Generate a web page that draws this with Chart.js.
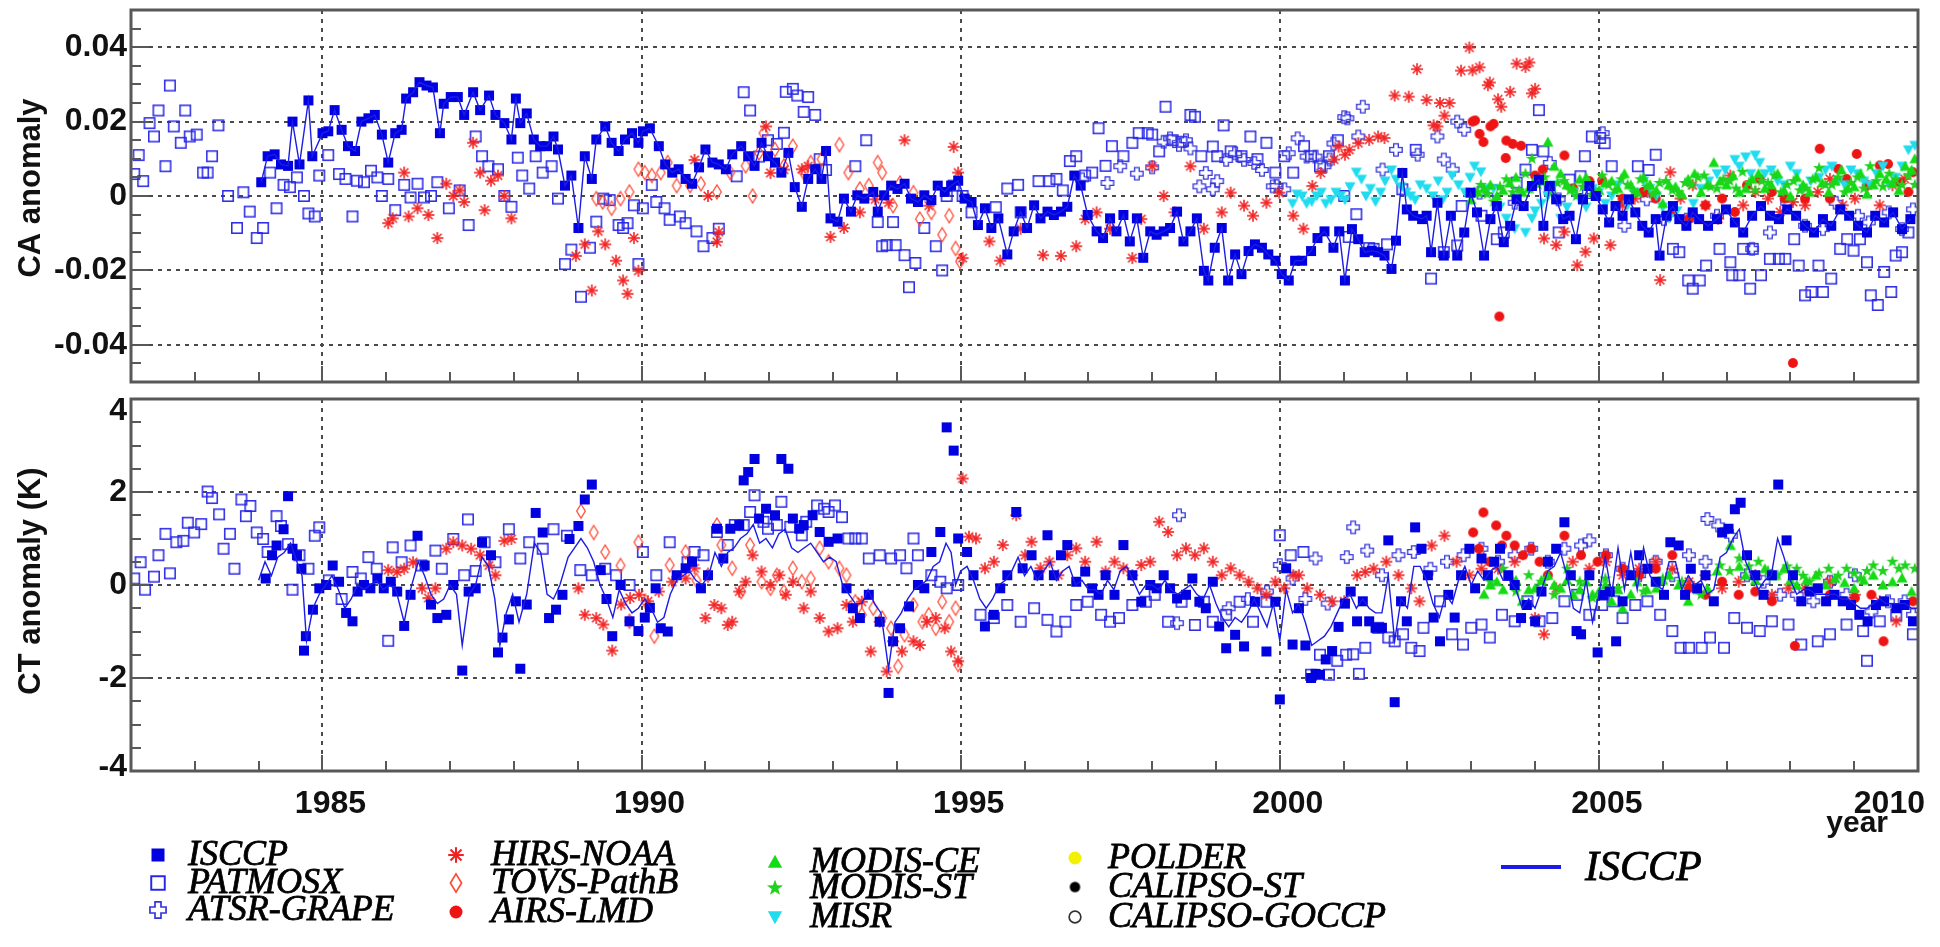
<!DOCTYPE html>
<html>
<head>
<meta charset="utf-8">
<title>CA / CT anomalies</title>
<script src="https://cdn.jsdelivr.net/npm/chart.js@4.4.1/dist/chart.umd.min.js"></script>
<style>
  body { margin: 0; background: #fff; }
  #wrap { position: relative; width: 1940px; height: 947px; overflow: hidden; }
  canvas { position: absolute; left: 0; }
</style>
</head>
<body>
<div id="wrap">
  <canvas id="caChart" width="1940" height="390" style="top:0"></canvas>
  <canvas id="ctChart" width="1940" height="557" style="top:390px"></canvas>
</div>
<script>
// =============================================================================
// Data: [decimal year, anomaly]
// =============================================================================

const yearTicks = [1985, 1990, 1995, 2000, 2005, 2010];
const caTickLabels = ['0.04', '0.02', '0', '-0.02', '-0.04'];
const caTickValues = [0.04, 0.02, 0, -0.02, -0.04];
const ctTickLabels = ['4', '2', '0', '-2', '-4'];
const ctTickValues = [4, 2, 0, -2, -4];

// ---- cloud amount anomaly ----
const isccpCA = [
  [1984.04,.0037],[1984.14,.0107],[1984.25,.0112],[1984.35,.0085],[1984.46,.0081],[1984.53,.0200],[1984.64,.0085],[1984.78,.0257],
  [1984.84,.0107],[1985.0,.0169],[1985.09,.0174],[1985.19,.0231],[1985.3,.0178],[1985.4,.0134],[1985.51,.0121],[1985.61,.0200],
  [1985.72,.0209],[1985.82,.0218],[1985.93,.0165],[1986.03,.0090],[1986.14,.0169],[1986.24,.0178],[1986.31,.0262],[1986.42,.0279],
  [1986.52,.0306],[1986.63,.0297],[1986.73,.0292],[1986.84,.0169],[1986.9,.0248],[1987.01,.0266],[1987.12,.0266],[1987.22,.0218],
  [1987.36,.0279],[1987.47,.0231],[1987.61,.0270],[1987.71,.0218],[1987.85,.0196],[1987.96,.0152],[1988.03,.0262],[1988.1,.0196],
  [1988.2,.0222],[1988.31,.0152],[1988.41,.0134],[1988.52,.0134],[1988.62,.0160],[1988.69,.0125],[1988.8,.0028],[1988.9,.0055],
  [1989.01,-.0086],[1989.11,.0107],[1989.22,.0046],[1989.29,.0152],[1989.43,.0187],[1989.53,.0143],[1989.64,.0121],[1989.74,.0152],
  [1989.85,.0169],[1989.95,.0143],[1990.02,.0174],[1990.13,.0182],[1990.27,.0134],[1990.37,.0085],[1990.48,.0063],[1990.58,.0072],
  [1990.69,.0046],[1990.79,.0033],[1990.9,.0077],[1991.0,.0125],[1991.11,.0090],[1991.21,.0085],[1991.32,.0072],[1991.42,.0112],
  [1991.56,.0134],[1991.67,.0107],[1991.77,.0081],[1991.88,.0143],[1991.98,.0107],[1992.09,.0090],[1992.19,.0063],[1992.3,.0116],
  [1992.4,.0024],[1992.51,-.0029],[1992.61,.0046],[1992.72,.0072],[1992.82,.0046],[1992.89,.0121],[1992.96,-.0060],[1993.07,-.0069],
  [1993.17,-.0007],[1993.28,-.0042],[1993.38,.0002],[1993.49,-.0007],[1993.63,.0011],[1993.7,-.0042],[1993.8,.0002],[1993.91,.0028],
  [1994.01,.0019],[1994.12,.0033],[1994.22,-.0007],[1994.33,-.0016],[1994.43,.0002],[1994.54,-.0011],[1994.64,.0028],[1994.75,.0011],
  [1994.85,.0028],[1994.96,.0041],[1995.06,-.0007],[1995.17,-.0016],[1995.27,-.0078],[1995.38,-.0033],[1995.48,-.0086],[1995.59,-.0060],
  [1995.73,-.0157],[1995.83,-.0095],[1995.94,-.0042],[1996.04,-.0086],[1996.15,-.0025],[1996.25,-.0060],[1996.36,-.0042],[1996.46,-.0051],
  [1996.57,-.0042],[1996.67,-.0029],[1996.78,.0055],[1996.88,.0028],[1996.99,-.0051],[1997.13,-.0095],[1997.23,-.0113],[1997.34,-.0060],
  [1997.44,-.0095],[1997.55,-.0051],[1997.65,-.0122],[1997.76,-.0060],[1997.86,-.0166],[1997.97,-.0095],[1998.07,-.0104],[1998.18,-.0095],
  [1998.28,-.0086],[1998.39,-.0042],[1998.49,-.0122],[1998.6,-.0095],[1998.7,-.0060],[1998.81,-.0201],[1998.88,-.0227],[1998.98,-.0139],
  [1999.09,-.0086],[1999.19,-.0227],[1999.3,-.0157],[1999.4,-.0210],[1999.51,-.0148],[1999.61,-.0130],[1999.72,-.0139],[1999.82,-.0157],
  [1999.93,-.0174],[2000.03,-.0210],[2000.14,-.0227],[2000.24,-.0174],[2000.35,-.0174],[2000.49,-.0148],[2000.59,-.0113],[2000.7,-.0095],
  [2000.84,-.0139],[2000.93,-.0095],[2001.02,-.0227],[2001.13,-.0089],[2001.23,-.0116],[2001.33,-.0151],[2001.44,-.0147],[2001.54,-.0151],
  [2001.64,-.0160],[2001.75,-.0196],[2001.82,-.0120],[2001.92,.0062],[2001.99,-.0036],[2002.09,-.0053],[2002.23,-.0062],[2002.3,-.0053],
  [2002.37,-.0151],[2002.47,-.0018],[2002.57,-.0160],[2002.68,-.0053],[2002.78,-.0160],[2002.89,-.0098],[2002.99,.0009],[2003.09,-.0044],
  [2003.2,-.0160],[2003.3,-.0062],[2003.4,-.0027],[2003.51,-.0124],[2003.61,-.0080],[2003.71,-.0009],[2003.82,-.0027],[2003.95,.0027],
  [2004.06,.0044],[2004.13,-.0080],[2004.23,.0027],[2004.33,-.0009],[2004.44,-.0062],[2004.54,-.0053],[2004.64,-.0116],[2004.75,-.0009],
  [2004.85,.0027],[2004.95,.0],[2005.06,-.0036],[2005.16,-.0071],[2005.26,-.0027],[2005.37,-.0053],[2005.47,-.0009],[2005.57,-.0044],
  [2005.68,-.0080],[2005.78,-.0098],[2005.89,-.0062],[2005.95,-.0160],[2006.06,-.0053],[2006.16,-.0027],[2006.26,-.0062],[2006.37,-.0080],
  [2006.47,-.0044],[2006.57,-.0062],[2006.71,-.0080],[2006.85,-.0062],[2006.99,-.0036],[2007.13,-.0071],[2007.26,-.0098],[2007.4,-.0053],
  [2007.54,-.0027],[2007.68,-.0053],[2007.82,-.0062],[2007.95,-.0036],[2008.09,-.0053],[2008.23,-.0080],[2008.37,-.0098],[2008.51,-.0062],
  [2008.64,-.0080],[2008.78,-.0036],[2008.92,-.0053],[2009.06,-.0080],[2009.2,-.0098],[2009.33,-.0053],[2009.47,-.0071],[2009.61,-.0044],
  [2009.75,-.0089],[2009.88,-.0062]
];

const patmosxCA = [
  [1982.05,.0059],[1982.12,.011],[1982.19,.004],[1982.29,.0196],[1982.36,.016],[1982.43,.023],[1982.54,.008],[1982.61,.0297],
  [1982.67,.0187],[1982.78,.0143],[1982.85,.023],[1982.92,.016],[1983.03,.0165],[1983.13,.0063],[1983.2,.0063],[1983.27,.0107],
  [1983.37,.019],[1983.52,0],[1983.66,-.0086],[1983.76,.001],[1983.86,-.0042],[1983.97,-.0113],[1984.07,-.0086],[1984.18,.0063],
  [1984.28,-.0033],[1984.39,.003],[1984.49,.0024],[1984.6,.005],[1984.71,0],[1984.78,-.0047],[1984.88,-.0055],[1984.95,.0055],
  [1985.09,.011],[1985.26,.0059],[1985.36,.0046],[1985.47,-.0055],[1985.54,.0041],[1985.65,.0037],[1985.76,.0068],[1985.86,.005],
  [1985.93,0],[1986.03,.0046],[1986.14,-.0038],[1986.28,.003],[1986.38,-.0004],[1986.49,.0033],[1986.59,-.0004],[1986.7,0],
  [1986.8,.0037],[1986.98,-.0033],[1987.15,.0015],[1987.29,-.0078],[1987.4,.016],[1987.5,.0107],[1987.6,.008],[1987.75,.0072],
  [1987.85,0],[1987.96,-.0029],[1988.06,.0103],[1988.13,.0055],[1988.24,.002],[1988.34,.0107],[1988.45,.0063],[1988.59,.008],
  [1988.69,-.0007],[1988.8,-.0183],[1988.9,-.0144],[1989.05,-.0271],[1989.19,-.0139],[1989.29,-.0069],[1989.4,-.0007],[1989.5,-.0011],
  [1989.64,-.0078],[1989.71,-.0086],[1989.78,-.0073],[1989.88,-.0025],[1989.95,-.0183],[1990.02,-.0033],[1990.16,.003],[1990.23,-.0016],
  [1990.36,-.0033],[1990.44,-.0064],[1990.6,-.0055],[1990.69,-.0073],[1990.86,-.0095],[1990.97,-.0135],[1991.11,-.0113],[1991.21,-.0088],
  [1991.49,.0053],[1991.6,.0279],[1991.7,.023],[1991.84,.0106],[1991.98,.015],[1992.12,.014],[1992.23,.017],[1992.26,.028],
  [1992.37,.0288],[1992.44,.027],[1992.54,.0226],[1992.61,.0266],[1992.72,.0218],[1992.79,.0099],[1992.89,.007],[1993.35,.008],
  [1993.52,.015],[1993.7,-.007],[1993.77,-.0135],[1993.84,-.0132],[1993.94,-.007],[1993.98,-.0132],[1994.12,-.0159],[1994.19,-.0245],
  [1994.29,-.018],[1994.43,-.0086],[1994.61,-.0135],[1994.71,-.02],[1994.78,0],[1994.89,.0028],[1995.03,0],[1995.17,-.0044],
  [1995.55,-.003],[1995.73,.002],[1995.9,.003],[1995.94,-.0044],[1996.22,.004],[1996.39,.004],[1996.5,.0046],[1996.6,.0015],
  [1996.71,.0094],[1996.81,.0107],[1996.95,.0055],[1997.06,.0063],[1997.16,.0182],[1997.27,.0081],[1997.37,.0134],[1997.55,.0107],
  [1997.69,.0143],[1997.79,.0169],[1997.93,.0169],[1998.0,.0165],[1998.11,.012],[1998.21,.024],[1998.32,.015],[1998.46,.0146],
  [1998.6,.0218],[1998.67,.0213],[1998.77,.0107],[1998.95,.0133],[1999.02,.0107],[1999.12,.019],[1999.23,.012],[1999.4,.0107],
  [1999.54,.016],[1999.65,.0099],[1999.79,.0143],[1999.93,.0063],[2000.07,.0107],[2000.21,.0063],[2000.38,.0134],[2000.49,.0107],
  [2000.63,.008],[2000.77,.0107],[2000.91,.015],[2001.01,0],[2001.08,-.011],[2001.2,-.0049],[2001.4,-.014],[2001.47,-.0142],
  [2001.68,-.013],[2001.92,.0018],[2002.13,.0124],[2002.37,-.0222],[2002.57,-.0151],[2002.78,-.0133],[2002.85,-.0027],[2003.16,-.0053],
  [2003.4,-.0116],[2003.51,-.0098],[2003.71,.0036],[2003.85,.0071],[2003.95,.0124],[2004.06,.0231],[2004.13,.012],[2004.23,.0018],
  [2004.37,-.0098],[2004.54,.0044],[2004.71,.0053],[2004.78,.0107],[2004.89,.016],[2005.02,.0156],[2005.09,.0142],[2005.2,.008],
  [2005.61,.008],[2005.78,.007],[2005.89,.0111],[2006.16,-.0142],[2006.26,-.0151],[2006.4,-.0227],[2006.47,-.0249],[2006.58,-.0227],
  [2006.68,-.0187],[2006.89,-.0142],[2007.06,-.0178],[2007.09,-.0213],[2007.2,-.0213],[2007.26,-.0142],[2007.37,-.0249],[2007.41,-.0142],
  [2007.54,-.0213],[2007.68,-.0169],[2007.82,-.0169],[2007.92,-.0169],[2008.06,-.0116],[2008.13,-.0187],[2008.23,-.0267],[2008.33,-.0258],
  [2008.44,-.0187],[2008.51,-.0258],[2008.64,-.0222],[2008.78,-.0142],[2008.89,-.0116],[2008.99,-.0147],[2009.09,-.0116],[2009.2,-.0178],
  [2009.26,-.0267],[2009.37,-.0293],[2009.47,-.0204],[2009.58,-.0258],[2009.65,-.016],[2009.75,-.0151],[2009.85,-.0098]
];

const atsrCA = [
  [1996.9,.0045],[1997.3,.0035],[1997.5,.008],[1997.76,.006],[1998.0,.0077],[1998.18,.0146],[1998.28,.0155],[1998.42,.0137],
  [1998.53,.015],[1998.6,.0128],[1998.74,.0026],[1998.84,.0062],[1998.95,.0018],[1999.02,.004],[1999.16,.0097],[1999.3,.0115],
  [1999.44,.0097],[1999.6,.0089],[1999.72,.007],[1999.89,.0026],[1999.95,.0027],[2000.07,.0018],[2000.14,.0115],[2000.28,.0155],
  [2000.42,.0106],[2000.56,.0106],[2000.7,.008],[2000.78,.0098],[2000.84,.0141],[2001.01,.0212],[2001.06,.0209],[2001.23,.016],
  [2001.3,.024],[2001.61,.0071],[2001.82,.0124],[2002.16,.0111],[2002.47,.016],[2002.57,.0098],[2002.71,.0071],[2002.78,.02],
  [2002.89,.0178],[2003.13,.0009],[2003.37,.0013],[2003.68,-.0018],[2004.23,.0089],[2004.37,-.0009],[2004.78,0],[2005.06,.0169],
  [2005.4,-.008],[2005.75,-.0009],[2006.02,-.0062],[2006.44,-.0053],[2006.85,-.0053],[2007.4,-.0142],[2007.68,-.0098],[2007.95,-.0018],
  [2008.23,-.008],[2008.51,-.0089],[2008.71,-.0018],[2009.06,-.0053],[2009.23,-.0071],[2009.54,-.0044],[2009.75,-.0089],[2009.92,-.0036]
];

const hirsCA = [
  [1986.03,-.0073],[1986.1,-.0060],[1986.28,.0063],[1986.35,-.0055],[1986.49,-.0033],[1986.66,-.0051],[1986.8,-.0113],[1986.94,.0033],
  [1987.05,0],[1987.15,.0015],[1987.22,-.0016],[1987.36,.0143],[1987.47,.0063],[1987.54,-.0038],[1987.64,.0041],[1987.75,.0055],
  [1987.85,0],[1987.96,-.0060],[1988.97,-.0161],[1989.11,-.0130],[1989.22,-.0254],[1989.32,-.0095],[1989.43,-.0130],[1989.6,-.0174],
  [1989.71,-.0227],[1989.78,-.0263],[1989.88,-.0113],[1989.95,-.0201],[1990.83,.0097],[1991.04,0],[1991.18,-.0123],[1991.21,-.0097],
  [1991.95,.0187],[1992.02,.0062],[1992.23,.0071],[1992.51,.0072],[1992.61,.0080],[1992.96,-.0110],[1993.17,-.0086],[1993.42,-.0044],
  [1993.66,-.0009],[1993.87,-.0018],[1994.12,.0150],[1994.5,-.0026],[1994.89,.0132],[1994.96,.0063],[1995.03,-.0167],[1995.45,-.0122],
  [1995.62,-.0174],[1995.94,-.0088],[1996.29,-.0159],[1996.57,-.0161],[1996.81,-.0135],[1996.95,-.0062],[1997.13,-.0044],[1997.34,-.0088],
  [1997.69,-.0167],[1997.83,-.0062],[1998.0,.0080],[1998.18,0],[1998.35,-.0044],[1998.6,.0080],[1998.81,-.0088],[1999.09,-.0044],
  [1999.23,.0009],[1999.44,-.0026],[1999.58,-.0053],[1999.79,-.0018],[1999.99,.0009],[2000.21,-.0053],[2000.37,-.0088],[2000.51,.0027],
  [2000.64,.0062],[2000.85,.0098],[2000.92,.0133],[2001.02,.0111],[2001.09,.0124],[2001.23,.0142],[2001.4,.0151],[2001.54,.0160],
  [2001.64,.0156],[2001.8,.0270],[2002.02,.0267],[2002.15,.0341],[2002.3,.0258],[2002.41,.0190],[2002.47,.0187],[2002.51,.0250],
  [2002.58,.0216],[2002.66,.0250],[2002.84,.0337],[2002.97,.0399],[2003.02,.0338],[2003.13,.0346],[2003.26,.0298],[2003.29,.0305],
  [2003.42,.0260],[2003.47,.0240],[2003.61,.0280],[2003.71,.0356],[2003.85,.0347],[2003.91,.0359],[2003.95,.0276],[2004.0,.0288],
  [2004.07,.0046],[2004.14,-.0114],[2004.33,-.0132],[2004.46,-.0096],[2004.66,-.0186],[2004.79,-.0150],[2004.92,-.0114],[2005.18,-.0132],
  [2005.37,-.0025],[2005.56,-.0007],[2005.76,.0011],[2005.96,-.0226],[2006.12,.0064],[2006.28,-.0007],[2006.47,.0029],[2006.67,-.0025],
  [2006.87,-.0061],[2007.06,.0055],[2007.26,-.0025],[2007.45,.0011],[2007.65,-.0007],[2007.84,-.0043],[2008.04,-.0016],[2008.23,-.0025],
  [2008.43,.0011],[2008.62,.0046],[2008.82,-.0025],[2009.01,-.0007],[2009.21,.0029],[2009.4,-.0025],[2009.6,.0029],[2009.79,.0046]
];

const tovsCA = [
  [1989.29,-.0007],[1989.39,-.0016],[1989.53,-.0033],[1989.67,-.0007],[1989.81,.0011],[1989.95,.0072],[1990.05,.0063],[1990.16,.0055],
  [1990.3,.0063],[1990.41,.0090],[1990.55,.0028],[1990.76,.0028],[1990.93,.0033],[1991.18,.0011],[1991.39,.0063],[1991.63,.0081],
  [1991.74,0],[1991.84,.0116],[1991.91,.0169],[1992.09,.0125],[1992.23,.0081],[1992.37,.0134],[1992.54,.0063],[1992.65,.0090],
  [1992.82,.0099],[1993.1,.0138],[1993.24,.0063],[1993.42,.0019],[1993.56,.0028],[1993.7,.0090],[1993.77,.0063],[1993.94,-.0026],
  [1994.05,.0035],[1994.26,.0009],[1994.36,-.0062],[1994.54,-.0044],[1994.71,-.0104],[1994.82,-.0053],[1994.92,-.0141],[1994.99,-.0176]
];

const airsCA = [
  [2003.02,.0200],[2003.06,.0203],[2003.13,.0167],[2003.19,.0145],[2003.3,.0187],[2003.35,.0194],[2003.44,-.0324],[2003.54,.0102],
  [2003.55,.0149],[2003.65,.0140],[2003.78,.0135],[2004.0,.0055],[2004.12,.0071],[2004.46,.0109],[2004.6,.0020],[2004.85,.0040],
  [2005.05,.0042],[2005.37,-.0007],[2005.69,.0011],[2005.89,-.0007],[2006.15,-.0043],[2006.41,-.0061],[2006.67,-.0025],[2006.93,-.0007],
  [2007.13,-.0043],[2007.32,.0029],[2007.52,.0046],[2007.71,.0011],[2007.91,-.0007],[2008.04,-.0449],[2008.23,-.0007],[2008.46,.0127],
  [2008.62,-.0007],[2008.75,.0073],[2008.88,.0046],[2009.04,.0113],[2009.21,.0029],[2009.4,.0082],[2009.53,.0086],[2009.72,.0037],
  [2009.85,.0011],[2009.92,.0064]
];

const modisCeCA = [
  [2003.0,-.0010],[2003.1,.0010],[2003.2,.0020],[2003.3,.0030],[2003.4,0],[2003.5,.0015],[2003.6,.0035],[2003.7,.0050],
  [2003.8,.0010],[2003.9,.0020],[2004.0,.0045],[2004.1,.0040],[2004.2,.0145],[2004.3,.0080],[2004.4,.0060],[2004.5,.0030],
  [2004.6,.0020],[2004.7,.0045],[2004.8,.0050],[2004.9,.0010],[2005.0,.0015],[2005.1,.0035],[2005.2,.0040],[2005.3,.0020],
  [2005.4,.0060],[2005.5,.0030],[2005.6,.0010],[2005.7,.0050],[2005.8,.0030],[2005.9,.0015],[2006.0,-.0020],[2006.1,.0030],
  [2006.2,.0025],[2006.3,.0005],[2006.4,.0045],[2006.5,.0060],[2006.6,.0010],[2006.7,.0030],[2006.8,.0090],[2006.9,.0040],
  [2007.0,.0030],[2007.1,.0055],[2007.2,.0010],[2007.3,.0020],[2007.4,.0045],[2007.5,.0060],[2007.6,.0020],[2007.7,.0030],
  [2007.8,.0060],[2007.9,.0015],[2008.0,0],[2008.1,.0050],[2008.2,.0030],[2008.3,.0010],[2008.4,.0050],[2008.5,.0035],
  [2008.6,.0010],[2008.7,.0040],[2008.8,.0070],[2008.9,.0020],[2009.0,.0025],[2009.1,.0060],[2009.2,.0005],[2009.3,.0030],
  [2009.4,.0060],[2009.5,.0045],[2009.6,.0035],[2009.7,.0015],[2009.8,.0080],[2009.9,.0070],[2009.95,.0100]
];

const modisStCA = [
  [2003.05,.0010],[2003.15,.0030],[2003.25,.0005],[2003.35,-.0015],[2003.45,.0025],[2003.55,.0045],[2003.65,.0010],[2003.75,.0015],
  [2003.85,.0060],[2003.95,.0100],[2004.05,.0030],[2004.15,.0050],[2004.25,.0010],[2004.35,.0035],[2004.45,.0040],[2004.55,.0015],
  [2004.65,0],[2004.75,.0025],[2004.85,.0035],[2004.95,.0010],[2005.05,.0055],[2005.15,.0030],[2005.25,.0015],[2005.35,.0045],
  [2005.45,.0030],[2005.55,.0010],[2005.65,.0045],[2005.75,.0025],[2005.85,.0005],[2005.95,.0035],[2006.05,.0040],[2006.15,.0015],
  [2006.25,.0010],[2006.35,.0035],[2006.45,.0030],[2006.55,.0050],[2006.65,.0055],[2006.75,.0025],[2006.85,.0020],[2006.95,.0045],
  [2007.05,.0040],[2007.15,.0020],[2007.25,.0065],[2007.35,.0035],[2007.45,.0015],[2007.55,.0040],[2007.65,.0035],[2007.75,.0055],
  [2007.85,.0010],[2007.95,.0030],[2008.05,.0040],[2008.15,.0015],[2008.25,.0020],[2008.35,.0045],[2008.45,.0075],[2008.55,.0030],
  [2008.65,.0030],[2008.75,.0050],[2008.85,.0010],[2008.95,.0035],[2009.05,.0050],[2009.15,.0020],[2009.25,.0080],[2009.35,.0040],
  [2009.45,.0025],[2009.55,.0060],[2009.65,.0045],[2009.75,.0030],[2009.85,.0055],[2009.95,.0030]
];

const misrCA = [
  [2000.2,-.0020],[2000.27,.0005],[2000.35,0],[2000.42,-.0020],[2000.5,-.0015],[2000.58,0],[2000.65,.0010],[2000.72,-.0020],
  [2000.8,-.0010],[2000.88,.0010],[2000.95,0],[2001.02,-.0010],[2001.1,.0025],[2001.2,.0064],[2001.28,.0045],[2001.35,0],
  [2001.42,.0020],[2001.5,-.0015],[2001.58,.0010],[2001.65,.0040],[2001.75,.0070],[2001.82,.0045],[2001.9,.0025],[2001.98,.0010],
  [2002.05,0],[2002.12,-.0010],[2002.2,.0030],[2002.3,.0020],[2002.4,0],[2002.48,.0040],[2002.55,-.0010],[2002.62,.0010],
  [2002.7,.0055],[2002.8,.0030],[2002.9,.0010],[2002.98,.0050],[2003.05,.0080],[2003.15,.0065],[2003.25,.0020],[2003.35,.0020],
  [2003.45,-.0030],[2003.55,-.0060],[2003.68,-.0088],[2003.85,-.0098],[2003.95,-.0060],[2004.0,-.0040],[2004.1,-.0020],[2004.2,0],
  [2004.3,.0030],[2004.4,-.0060],[2004.5,-.0030],[2004.6,.0010],[2004.7,-.0010],[2004.8,-.0030],[2004.9,.0020],[2005.0,.0010],
  [2005.1,-.0020],[2005.2,0],[2005.3,.0030],[2005.45,-.0025],[2005.55,.0010],[2005.7,.0040],[2005.8,.0020],[2005.9,0],
  [2006.0,-.0030],[2006.1,-.0060],[2006.22,-.0040],[2006.35,-.0080],[2006.48,-.0020],[2006.6,.0020],[2006.72,.0040],[2006.85,.0060],
  [2006.98,.0070],[2007.13,.0098],[2007.2,.0080],[2007.3,.0105],[2007.38,.0060],[2007.45,.0110],[2007.52,.0090],[2007.6,.0060],
  [2007.7,.0070],[2007.8,.0040],[2007.9,.0030],[2008.0,.0080],[2008.1,.0060],[2008.2,.0020],[2008.32,.0040],[2008.45,.0050],
  [2008.55,.0070],[2008.65,.0080],[2008.75,.0040],[2008.85,.0030],[2008.95,.0070],[2009.05,.0060],[2009.15,.0040],[2009.25,.0030],
  [2009.35,.0060],[2009.45,.0080],[2009.55,.0030],[2009.65,.0050],[2009.75,.0080],[2009.85,.0124],[2009.95,.0136]
];

// ---- cloud temperature anomaly (K) ----
const isccpCT = [
  [1984.11,.14],[1984.21,.64],[1984.28,.85],[1984.39,1.2],[1984.46,1.91],[1984.53,.78],[1984.6,.64],[1984.67,.35],
  [1984.71,-1.41],[1984.74,-1.1],[1984.85,-.53],[1984.95,-.07],[1985.06,0],[1985.16,.42],[1985.26,.07],[1985.37,-.6],
  [1985.47,-.78],[1985.55,-.14],[1985.65,0],[1985.75,-.07],[1985.86,.14],[1985.96,-.07],[1986.07,.07],[1986.17,-.14],
  [1986.28,-.88],[1986.38,-.21],[1986.49,1.06],[1986.6,.42],[1986.7,-.42],[1986.8,-.71],[1986.94,-.64],[1987.05,0],
  [1987.19,-1.84],[1987.29,-.14],[1987.4,-.07],[1987.5,.92],[1987.64,.64],[1987.75,-1.45],[1987.82,-1.13],[1987.92,-.74],
  [1988.03,-.35],[1988.1,-1.8],[1988.2,-.42],[1988.34,1.55],[1988.45,1.13],[1988.55,-.71],[1988.66,-.53],[1988.76,-.21],
  [1988.87,.99],[1989.01,1.27],[1989.11,1.84],[1989.22,2.16],[1989.36,.32],[1989.45,-.3],[1989.54,-1.1],[1989.67,0],
  [1989.81,-.78],[1989.95,-.99],[1990.05,-.7],[1990.13,-.49],[1990.22,-.07],[1990.3,-.93],[1990.41,-1.0],[1990.55,.21],
  [1990.69,.36],[1990.79,.5],[1990.93,-.07],[1991.04,.21],[1991.18,1.21],[1991.28,.57],[1991.39,1.21],[1991.53,1.29],
  [1991.6,2.25],[1991.67,2.43],[1991.77,2.71],[1991.84,1.43],[1991.95,1.64],[1992.09,1.5],[1992.19,2.71],[1992.3,2.5],
  [1992.37,1.43],[1992.47,1.21],[1992.54,1.29],[1992.68,1.5],[1992.79,1.14],[1992.93,.93],[1993.07,1.0],[1993.21,-.07],
  [1993.31,-.5],[1993.42,-.71],[1993.56,-.21],[1993.73,-.79],[1993.87,-2.32],[1993.94,-1.21],[1994.05,-.93],[1994.19,-.46],
  [1994.33,0],[1994.43,-.07],[1994.54,.71],[1994.68,1.14],[1994.78,3.39],[1994.89,2.89],[1994.96,1.0],[1995.1,.71],
  [1995.2,.21],[1995.38,-.89],[1995.52,-.64],[1995.62,-.07],[1995.73,.21],[1995.87,1.57],[1995.97,.36],[1996.11,.64],
  [1996.22,.21],[1996.36,1.07],[1996.46,.21],[1996.57,.64],[1996.67,.86],[1996.81,.07],[1996.95,.29],[1997.06,-.07],
  [1997.16,-.21],[1997.27,.21],[1997.41,-.21],[1997.55,.86],[1997.69,.21],[1997.83,-.36],[1997.97,0],[1998.07,-.07],
  [1998.18,.21],[1998.28,-.07],[1998.39,-.29],[1998.53,-.21],[1998.63,.14],[1998.74,-.36],[1998.84,-.5],[1998.95,.07],
  [1999.05,-.89],[1999.16,-1.36],[1999.3,-1.07],[1999.44,-1.32],[1999.61,-.36],[1999.79,-1.43],[1999.93,-.36],[2000.0,-2.46],
  [2000.1,.36],[2000.2,-1.28],[2000.3,-.5],[2000.4,-1.3],[2000.49,-2.0],[2000.56,-1.91],[2000.63,-1.93],[2000.72,-1.6],
  [2000.82,-1.42],[2000.92,-.9],[2001.02,-.4],[2001.11,-.14],[2001.21,-.78],[2001.3,-.35],[2001.4,-.78],[2001.5,-.92],
  [2001.6,-.92],[2001.7,.96],[2001.8,-2.52],[2001.9,-.35],[2001.99,-.78],[2002.12,1.24],[2002.22,.78],[2002.32,.21],
  [2002.41,-.7],[2002.51,-1.21],[2002.64,-.21],[2002.74,-.7],[2002.84,.21],[2002.97,.78],[2003.06,-.07],[2003.16,.57],
  [2003.26,.21],[2003.36,.5],[2003.45,.78],[2003.58,.21],[2003.68,0],[2003.78,-.71],[2003.87,-.43],[2004.0,-.78],
  [2004.1,-.14],[2004.2,.5],[2004.33,.78],[2004.46,1.35],[2004.56,.21],[2004.65,-.99],[2004.72,-1.06],[2004.85,.21],
  [2004.98,-1.45],[2005.07,-.21],[2005.17,-.14],[2005.27,-1.21],[2005.37,-.35],[2005.5,.21],[2005.63,.64],[2005.76,.35],
  [2005.89,.07],[2006.02,-.21],[2006.12,.92],[2006.25,.85],[2006.35,-.21],[2006.44,.35],[2006.54,-.07],[2006.67,.21],
  [2006.8,-.35],[2006.93,1.13],[2007.03,1.21],[2007.13,1.63],[2007.22,1.77],[2007.32,.64],[2007.45,.21],[2007.58,-.21],
  [2007.71,.21],[2007.81,2.16],[2007.94,.96],[2008.04,.21],[2008.17,-.35],[2008.3,-.14],[2008.43,-.07],[2008.56,-.35],
  [2008.69,-.21],[2008.82,-.35],[2008.95,-.43],[2009.08,-.64],[2009.21,-.78],[2009.34,-.43],[2009.47,-.35],[2009.66,-.5],
  [2009.79,-.43],[2009.92,-.78]
];

// the ISCCP curve of the lower panel is a separate, calmer series
const isccpLineCT = [
  [1984.0,.1],[1984.1,.5],[1984.2,.2],[1984.3,.6],[1984.4,.7],[1984.5,.9],[1984.6,.5],[1984.68,.2],[1984.75,-1.2],[1984.85,-.5],
  [1984.95,-.2],[1985.05,0],[1985.15,.2],[1985.25,-.1],[1985.35,-.5],[1985.45,-.3],[1985.55,0],[1985.65,-.1],[1985.75,0],[1985.85,.1],
  [1985.95,-.1],[1986.05,0],[1986.15,-.1],[1986.28,-.8],[1986.38,-.1],[1986.5,.5],[1986.6,.2],[1986.7,-.2],[1986.8,-.4],[1986.9,-.3],
  [1987.0,0],[1987.1,-.2],[1987.19,-1.3],[1987.3,-.2],[1987.4,0],[1987.5,.6],[1987.6,.4],[1987.7,-.3],[1987.78,-1.3],[1987.88,-.6],
  [1987.98,-.2],[1988.08,-.8],[1988.2,-.2],[1988.32,.9],[1988.42,.7],[1988.52,-.2],[1988.62,-.3],[1988.72,0],[1988.85,.6],[1988.95,.8],
  [1989.05,1.0],[1989.15,.8],[1989.25,.5],[1989.35,0],[1989.45,-.3],[1989.55,-.7],[1989.65,-.1],[1989.75,-.4],[1989.85,-.6],[1989.95,-.5],
  [1990.05,-.3],[1990.15,-.5],[1990.25,-.8],[1990.35,-.7],[1990.45,-.2],[1990.55,.1],[1990.65,.2],[1990.75,.3],[1990.85,.1],[1990.95,0],
  [1991.05,.2],[1991.15,.7],[1991.25,.4],[1991.35,.7],[1991.45,.8],[1991.55,1.0],[1991.65,1.1],[1991.75,1.3],[1991.85,.9],[1991.95,1.0],
  [1992.05,.8],[1992.15,1.1],[1992.25,1.2],[1992.35,.8],[1992.45,.7],[1992.55,.8],[1992.65,.9],[1992.75,.7],[1992.85,.5],[1992.95,.6],
  [1993.05,.5],[1993.15,0],[1993.25,-.2],[1993.35,-.4],[1993.45,-.4],[1993.55,-.1],[1993.65,-.4],[1993.75,-.6],[1993.87,-1.8],[1993.97,-.8],
  [1994.07,-.6],[1994.17,-.3],[1994.27,-.1],[1994.37,0],[1994.47,.1],[1994.57,.4],[1994.67,.5],[1994.77,.9],[1994.85,.7],[1994.92,0],
  [1995.0,.3],[1995.1,.4],[1995.2,.1],[1995.3,-.3],[1995.4,-.5],[1995.5,-.3],[1995.6,0],[1995.7,.1],[1995.8,.3],[1995.9,.6],
  [1996.0,.2],[1996.1,.4],[1996.2,.1],[1996.3,.3],[1996.4,.5],[1996.5,.1],[1996.6,.3],[1996.7,.4],[1996.8,0],[1996.9,.1],
  [1997.0,-.1],[1997.1,-.1],[1997.2,-.2],[1997.3,.1],[1997.4,-.1],[1997.5,.3],[1997.6,.4],[1997.7,.1],[1997.8,-.2],[1997.9,0],
  [1998.0,0],[1998.1,-.1],[1998.2,.1],[1998.3,-.1],[1998.4,-.2],[1998.5,-.1],[1998.6,0],[1998.7,-.2],[1998.8,-.3],[1998.9,0],
  [1999.0,-.4],[1999.1,-.7],[1999.2,-.9],[1999.3,-.7],[1999.4,-.8],[1999.5,-.6],[1999.6,-.3],[1999.7,-.6],[1999.8,-.9],[1999.9,-.4],
  [2000.0,-1.2],[2000.1,-.1],[2000.2,-.6],[2000.3,-.4],[2000.4,-.8],[2000.5,-1.3],[2000.6,-1.2],[2000.7,-1.1],[2000.8,-.9],[2000.9,-.6],
  [2001.0,-.3],[2001.1,-.2],[2001.2,-.5],[2001.3,-.3],[2001.4,-.5],[2001.5,-.6],[2001.6,-.6],[2001.7,.2],[2001.8,-1.2],[2001.9,-.3],
  [2002.0,-.5],[2002.1,.4],[2002.2,.4],[2002.3,.1],[2002.4,-.4],[2002.5,-.7],[2002.6,-.2],[2002.7,-.4],[2002.8,.1],[2002.9,.4],
  [2003.0,0],[2003.1,.3],[2003.2,.1],[2003.3,.3],[2003.4,.4],[2003.5,.1],[2003.6,.1],[2003.7,-.1],[2003.8,-.5],[2003.9,-.3],
  [2004.0,-.5],[2004.1,-.1],[2004.2,.3],[2004.3,.4],[2004.4,.7],[2004.5,.2],[2004.6,-.5],[2004.7,-.6],[2004.8,.1],[2004.9,-.8],
  [2005.0,-.2],[2005.1,.6],[2005.2,-.2],[2005.3,.8],[2005.4,-.1],[2005.5,.7],[2005.6,-.1],[2005.7,.8],[2005.8,.2],[2005.9,0],
  [2006.0,-.1],[2006.1,.5],[2006.2,.5],[2006.3,-.1],[2006.4,.2],[2006.5,0],[2006.6,.1],[2006.7,-.2],[2006.8,-.1],[2006.9,.6],
  [2007.0,.7],[2007.1,1.0],[2007.2,1.2],[2007.3,.5],[2007.4,.2],[2007.5,-.1],[2007.6,.1],[2007.7,.2],[2007.8,1.0],[2007.9,.6],
  [2008.0,.1],[2008.1,-.2],[2008.2,-.1],[2008.3,-.1],[2008.4,-.2],[2008.5,-.2],[2008.6,-.2],[2008.7,-.2],[2008.8,-.3],[2008.9,-.3],
  [2009.0,-.4],[2009.1,-.5],[2009.2,-.5],[2009.3,-.4],[2009.4,-.3],[2009.5,-.4],[2009.6,-.4],[2009.7,-.4],[2009.8,-.4],[2009.9,-.5],
  [2010.0,-.5]
];

const patmosxCT = [
  [1982.05,.14],[1982.15,.49],[1982.22,-.1],[1982.36,.18],[1982.43,.64],[1982.54,1.1],[1982.61,.25],[1982.71,.92],
  [1982.82,.95],[1982.89,1.34],[1982.99,1.13],[1983.1,1.31],[1983.2,2.01],[1983.27,1.87],[1983.38,1.52],[1983.45,.78],
  [1983.55,1.1],[1983.62,.35],[1983.73,1.84],[1983.8,1.48],[1983.87,1.7],[1983.97,1.13],[1984.07,.99],[1984.14,.71],
  [1984.28,1.48],[1984.35,1.27],[1984.46,.88],[1984.53,-.1],[1984.64,.64],[1984.78,.35],[1984.88,1.06],[1984.95,1.24],
  [1985.1,.1],[1985.3,-.3],[1985.47,.28],[1985.6,.14],[1985.72,.6],[1985.85,.35],[1986.03,-1.2],[1986.1,.81],
  [1986.24,.49],[1986.38,.85],[1986.55,.42],[1986.77,.74],[1986.87,.35],[1987.05,.99],[1987.22,.21],[1987.28,1.41],
  [1987.4,.3],[1987.54,.92],[1987.71,.49],[1987.92,1.2],[1988.1,.57],[1988.24,.92],[1988.45,.78],[1988.62,1.2],
  [1988.83,1.06],[1989.04,.32],[1989.22,.21],[1989.43,.35],[1989.6,.21],[1989.81,0],[1990.02,.71],[1990.23,.21],
  [1990.44,.92],[1990.72,.49],[1990.83,.71],[1990.97,.64],[1991.18,1.14],[1991.35,.86],[1991.46,1.29],[1991.6,1.29],
  [1991.7,1.57],[1991.77,1.93],[1991.91,1.36],[1991.98,1.21],[1992.12,1.29],[1992.19,1.79],[1992.33,1.25],[1992.51,1.07],
  [1992.58,1.36],[1992.75,1.71],[1992.86,1.64],[1992.93,1.57],[1993.03,1.71],[1993.14,1.46],[1993.24,1.0],[1993.35,1.0],
  [1993.45,1.0],[1993.56,.57],[1993.73,.64],[1993.91,.57],[1994.05,.64],[1994.15,.36],[1994.26,1.0],[1994.33,.64],
  [1994.54,.21],[1994.68,.07],[1994.78,-.07],[1994.96,0],[1995.31,-.64],[1995.52,-.71],[1995.73,-.43],[1995.94,-.79],
  [1996.15,-.5],[1996.36,-.75],[1996.5,-1.0],[1996.64,-.79],[1996.81,-.43],[1996.99,-.36],[1997.2,-.64],[1997.34,-.79],
  [1997.48,-.71],[1997.69,-.43],[1997.9,-.36],[1998.04,-.21],[1998.25,-.79],[1998.46,-.36],[1998.67,-.86],[1998.81,-.36],
  [1998.95,-.79],[1999.16,-.64],[1999.37,-.36],[1999.58,-.79],[1999.79,-.36],[2000.0,1.07],[2000.17,.64],[2000.37,.71],
  [2000.49,-1.93],[2000.63,-1.5],[2000.77,-1.93],[2000.9,-1.63],[2001.04,-1.5],[2001.15,-1.49],[2001.24,-1.91],[2001.34,-1.35],
  [2001.54,-.92],[2001.7,-1.13],[2001.8,-1.21],[2001.93,-1.06],[2002.06,-1.35],[2002.19,-1.42],[2002.25,-.92],[2002.51,-.35],
  [2002.7,-1.06],[2002.87,-1.28],[2003.0,-.92],[2003.16,-.85],[2003.29,-1.13],[2003.48,-.64],[2003.68,-.78],[2003.88,-.35],
  [2004.07,-.78],[2004.27,-.71],[2004.46,-.35],[2004.66,-.21],[2004.85,-.64],[2005.05,-.43],[2005.24,-.35],[2005.37,-.71],
  [2005.57,-.43],[2005.76,-.35],[2005.96,-.64],[2006.15,-.99],[2006.28,-1.35],[2006.41,-1.35],[2006.61,-1.35],[2006.74,-1.13],
  [2006.96,-1.35],[2007.12,-.71],[2007.32,-.92],[2007.52,-.99],[2007.71,-.78],[2007.97,-.85],[2008.17,-1.28],[2008.43,-1.21],
  [2008.62,-1.06],[2008.88,-.85],[2009.14,-.99],[2009.2,-1.63],[2009.4,-.78],[2009.66,-.64],[2009.92,-1.06]
];

const atsrCT = [
  [1998.39,-.82],[1998.42,1.5],[1999.2,-.5],[1999.5,-.3],[1999.8,-.14],[2000.0,.43],[2000.2,.14],[2000.4,-.3],
  [2000.56,.57],[2000.75,-.4],[2001.05,.6],[2001.15,1.24],[2001.37,.74],[2001.6,.21],[2001.86,.64],[2002.1,.71],
  [2002.36,.35],[2002.62,.5],[2002.88,.64],[2003.16,.78],[2003.42,.5],[2003.68,.64],[2003.94,.78],[2004.2,.5],
  [2004.46,.78],[2004.72,.85],[2004.85,.96],[2005.11,.64],[2005.37,.35],[2005.63,.21],[2005.89,.5],[2006.15,.21],
  [2006.41,.64],[2006.67,.5],[2006.7,1.42],[2006.87,1.28],[2007.07,1.06],[2007.32,.21],[2007.58,.07],[2007.84,-.21],
  [2008.1,-.21],[2008.36,-.35],[2008.62,.07],[2008.88,-.21],[2009.01,.21],[2009.27,-.57],[2009.53,-.35],[2009.79,-.35],
  [2009.92,-.64]
];

const hirsCT = [
  [1986.03,.32],[1986.17,.28],[1986.28,.35],[1986.42,.49],[1986.56,-.07],[1986.66,-.28],[1986.77,-.07],[1986.94,.78],
  [1987.05,.92],[1987.19,.85],[1987.33,.78],[1987.47,.64],[1987.61,.42],[1987.71,.21],[1987.85,.95],[1987.96,.99],
  [1989.01,-.07],[1989.11,-.64],[1989.29,-.71],[1989.4,-.85],[1989.54,-1.41],[1989.68,-.42],[1989.82,-.28],[1989.96,-.21],
  [1990.1,-.35],[1990.27,-.14],[1990.48,.07],[1990.69,.14],[1990.83,.36],[1991.0,-.71],[1991.14,-.43],[1991.25,-.5],
  [1991.35,-.86],[1991.42,-.79],[1991.53,-.14],[1991.63,.07],[1991.74,.64],[1991.88,.29],[1992.02,0],[1992.16,.21],
  [1992.26,-.21],[1992.37,.07],[1992.54,-.5],[1992.65,-.14],[1992.79,-.71],[1992.93,-1.0],[1993.07,-.93],[1993.21,-.43],
  [1993.31,-.79],[1993.45,-.36],[1993.59,-1.43],[1993.73,-.79],[1993.84,-1.86],[1993.94,-1.21],[1994.08,-1.43],[1994.26,-1.21],
  [1994.36,-1.29],[1994.47,-.79],[1994.61,-.71],[1994.75,-.93],[1994.85,-1.43],[1994.96,-1.64],[1995.03,2.29],[1995.13,1.04],
  [1995.24,1.0],[1995.38,.36],[1995.52,.5],[1995.66,.86],[1995.87,1.5],[1996.01,.64],[1996.11,.93],[1996.25,.36],
  [1996.39,.5],[1996.53,.21],[1996.67,.64],[1996.81,.79],[1996.95,.5],[1997.13,.93],[1997.27,.29],[1997.41,.5],
  [1997.55,.36],[1997.69,.21],[1997.83,.43],[1997.97,.5],[1998.11,1.36],[1998.25,1.14],[1998.39,.64],[1998.53,.79],
  [1998.67,.64],[1998.81,.79],[1998.95,.5],[1999.09,.21],[1999.23,.36],[1999.37,.21],[1999.51,.07],[1999.65,-.07],
  [1999.79,-.21],[1999.93,.07],[2000.07,-.07],[2000.21,.21],[2000.3,.21],[2000.43,-.07],[2000.63,-.21],[2000.82,-.35],
  [2001.01,-.35],[2001.21,.21],[2001.34,.28],[2001.47,.35],[2001.67,.5],[2001.86,.21],[2002.06,-.07],[2002.19,-.35],
  [2002.38,.85],[2002.58,1.06],[2002.77,.5],[2002.97,.21],[2003.16,.35],[2003.42,.35],[2003.68,.5],[2004.0,-.71],
  [2004.14,-1.06],[2004.33,-.07],[2004.59,.5],[2004.85,.35],[2005.11,.5],[2005.37,.21],[2005.63,.35],[2005.89,.5],
  [2006.15,.35],[2006.41,.07],[2006.67,.21],[2006.93,-.07],[2007.19,.07],[2007.45,.21],[2007.71,-.21],[2007.97,-.07],
  [2008.23,-.07],[2008.62,.07],[2009.01,-.21],[2009.4,-.35],[2009.66,-.78]
];

const tovsCT = [
  [1989.05,1.59],[1989.25,1.13],[1989.43,.71],[1989.67,.42],[1989.81,-.78],[1989.95,.92],[1990.06,-.35],[1990.2,-1.1],
  [1990.44,.43],[1990.69,.71],[1990.86,.1],[1991.04,.21],[1991.18,1.29],[1991.25,.86],[1991.42,.36],[1991.56,-.14],
  [1991.7,.86],[1991.88,.07],[1992.02,-.07],[1992.12,.21],[1992.23,-.14],[1992.37,.36],[1992.51,.07],[1992.65,.14],
  [1992.79,.79],[1992.93,.5],[1993.1,.36],[1993.21,.21],[1993.35,-.36],[1993.45,-.64],[1993.63,-.5],[1993.77,-.71],
  [1993.91,-.93],[1994.02,-1.75],[1994.12,-1.07],[1994.26,-.43],[1994.4,-.79],[1994.5,-.64],[1994.61,-.93],[1994.71,-.36],
  [1994.82,-.79],[1994.92,-.5],[1994.96,-1.71]
];

const airsCT = [
  [2003.03,1.13],[2003.12,.78],[2003.19,1.56],[2003.29,.5],[2003.39,1.28],[2003.48,.85],[2003.55,1.06],[2003.68,.85],
  [2003.81,.64],[2003.94,.78],[2004.07,.5],[2004.2,.21],[2004.46,1.06],[2004.72,.64],[2004.98,.5],[2005.11,.64],
  [2005.37,.35],[2005.63,.21],[2005.89,.35],[2006.15,.64],[2006.41,-.07],[2006.67,-.21],[2006.93,.07],[2007.19,-.21],
  [2007.45,-.14],[2007.71,-.35],[2008.07,-1.31],[2008.62,-.21],[2009.01,-.28],[2009.27,-.21],[2009.46,-1.21],[2009.79,-.43],
  [2009.92,-.35]
];

const modisCeCT = [
  [2003.2,-.2],[2003.3,0],[2003.4,.07],[2003.5,-.1],[2003.6,.21],[2003.7,.1],[2003.8,-.35],[2003.9,-.1],[2004.0,-.07],[2004.1,.1],
  [2004.2,.21],[2004.3,0],[2004.4,-.07],[2004.5,.1],[2004.6,-.21],[2004.7,-.1],[2004.8,.07],[2004.9,-.2],[2005.0,-.14],[2005.1,0],
  [2005.2,-.35],[2005.3,-.1],[2005.37,-.5],[2005.5,-.2],[2005.6,.07],[2005.75,-.1],[2005.9,-.07],[2006.0,.1],[2006.1,.21],[2006.25,0],
  [2006.4,-.35],[2006.55,-.1],[2006.7,-.07],[2006.85,.3],[2007.06,.85],[2007.2,.4],[2007.3,.21],[2007.45,.1],[2007.6,.35],[2007.75,.2],
  [2007.9,.35],[2008.0,.1],[2008.1,0],[2008.25,.1],[2008.4,.21],[2008.55,0],[2008.7,.14],[2008.85,.05],[2009.0,-.07],[2009.15,.1],
  [2009.3,.21],[2009.45,0],[2009.6,.07],[2009.75,.15],[2009.9,-.14]
];

const modisStCT = [
  [2003.3,.07],[2003.5,.35],[2003.7,-.14],[2003.9,.21],[2004.1,.07],[2004.3,-.21],[2004.5,.35],[2004.7,.07],
  [2004.9,-.28],[2005.1,.14],[2005.3,-.07],[2005.5,.21],[2005.7,-.14],[2006.0,.14],[2006.3,.07],[2006.6,-.21],
  [2006.9,.42],[2007.05,.3],[2007.2,.57],[2007.35,.4],[2007.5,.5],[2007.65,.3],[2007.8,.21],[2007.95,.4],[2008.1,.35],
  [2008.2,.2],[2008.3,.07],[2008.45,.25],[2008.6,.35],[2008.75,.2],[2008.88,.35],[2009.0,.25],[2009.1,.14],[2009.2,.3],
  [2009.3,.42],[2009.45,.3],[2009.6,.5],[2009.7,.35],[2009.8,.42],[2009.95,.35]
];

// POLDER and CALIPSO have no points in either panel, legend only
const polderCA = [];
const calipsoStCA = [];
const calipsoGoccpCA = [];

// =============================================================================
// Styling
// =============================================================================

const SANS = '"Liberation Sans", Arial, sans-serif';
const SERIF = '"Liberation Serif", "Times New Roman", serif';
const FRAME_COLOR = '#585858';
const GRID_COLOR = '#4a4a4a';
const LINE_COLOR = '#1c1ce6';
const CT_TOP = 390; // page offset of the lower canvas

const COLORS = {
  isccp: '#0000e0',
  patmosx: '#2626e6',
  atsr: '#3434dc',
  hirs: '#f22222',
  tovs: '#ff4a36',
  airs: '#ee1414',
  modisCe: '#14dc14',
  modisSt: '#1ed21e',
  misr: '#20dcee',
  polder: '#f2f200',
  calipsoSt: '#000000',
  calipsoGoccp: '#333333'
};

/**
 * Build a marker bitmap so the same glyph can be used for points and legend
 */
function makeMarker(kind, color, scale = 1) {
  const s = Math.ceil(18 * scale);
  const c = document.createElement('canvas');
  c.width = s;
  c.height = s;
  const g = c.getContext('2d');
  g.translate(s / 2, s / 2);
  g.scale(scale, scale);
  g.fillStyle = color;
  g.strokeStyle = color;
  g.lineJoin = 'miter';
  const poly = (pts) => {
    g.beginPath();
    pts.forEach(([px, py], i) => (i ? g.lineTo(px, py) : g.moveTo(px, py)));
    g.closePath();
  };
  switch (kind) {
    case 'squareFilled':
      g.fillRect(-5, -5, 10, 10);
      break;
    case 'squareOpen':
      g.lineWidth = 1.5;
      g.strokeRect(-5.2, -5.2, 10.4, 10.4);
      break;
    case 'crossOpen': {
      const a = 2.3, r = 6.2;
      g.lineWidth = 1.3;
      poly([[-a, -r], [a, -r], [a, -a], [r, -a], [r, a], [a, a], [a, r], [-a, r], [-a, a], [-r, a], [-r, -a], [-a, -a]]);
      g.stroke();
      break;
    }
    case 'asterisk':
      g.lineWidth = 1.6;
      for (let k = 0; k < 4; k++) {
        const ang = k * Math.PI / 4;
        g.beginPath();
        g.moveTo(-6 * Math.cos(ang), -6 * Math.sin(ang));
        g.lineTo(6 * Math.cos(ang), 6 * Math.sin(ang));
        g.stroke();
      }
      break;
    case 'diamondOpen':
      g.lineWidth = 1.3;
      poly([[0, -7], [4.3, 0], [0, 7], [-4.3, 0]]);
      g.stroke();
      break;
    case 'circleFilled':
      g.beginPath();
      g.arc(0, 0, 5, 0, Math.PI * 2);
      g.fill();
      break;
    case 'circleOpen':
      g.lineWidth = 1.3;
      g.beginPath();
      g.arc(0, 0, 4.5, 0, Math.PI * 2);
      g.stroke();
      break;
    case 'triangleUp':
      poly([[0, -5.5], [5.5, 4.5], [-5.5, 4.5]]);
      g.fill();
      break;
    case 'triangleDown':
      poly([[0, 5.5], [5.5, -4.5], [-5.5, -4.5]]);
      g.fill();
      break;
    case 'starFilled': {
      const pts = [];
      for (let k = 0; k < 10; k++) {
        const rr = k % 2 ? 2.6 : 6.5;
        const ang = -Math.PI / 2 + k * Math.PI / 5;
        pts.push([rr * Math.cos(ang), rr * Math.sin(ang)]);
      }
      poly(pts);
      g.fill();
      break;
    }
  }
  return c;
}

const SERIES = [
  { key: 'isccp', label: 'ISCCP', kind: 'squareFilled' },
  { key: 'patmosx', label: 'PATMOSX', kind: 'squareOpen' },
  { key: 'atsr', label: 'ATSR-GRAPE', kind: 'crossOpen' },
  { key: 'hirs', label: 'HIRS-NOAA', kind: 'asterisk' },
  { key: 'tovs', label: 'TOVS-PathB', kind: 'diamondOpen' },
  { key: 'airs', label: 'AIRS-LMD', kind: 'circleFilled' },
  { key: 'modisCe', label: 'MODIS-CE', kind: 'triangleUp' },
  { key: 'modisSt', label: 'MODIS-ST', kind: 'starFilled' },
  { key: 'misr', label: 'MISR', kind: 'triangleDown' },
  { key: 'polder', label: 'POLDER', kind: 'circleFilled' },
  { key: 'calipsoSt', label: 'CALIPSO-ST', kind: 'circleFilled' },
  { key: 'calipsoGoccp', label: 'CALIPSO-GOCCP', kind: 'circleOpen' }
];

const MARKERS = {};
const LEGEND_MARKERS = {};
SERIES.forEach(s => {
  MARKERS[s.key] = makeMarker(s.kind, COLORS[s.key], 1);
  LEGEND_MARKERS[s.key] = makeMarker(s.kind, COLORS[s.key], s.key === 'calipsoSt' ? 1.05 : 1.3);
});

// draw order: lower "order" ends up on top
const DRAW_ORDER = { patmosx: 10, atsr: 9, tovs: 8, hirs: 7, airs: 6, misr: 5, modisCe: 4, modisSt: 3, polder: 2, calipsoSt: 2, calipsoGoccp: 2, isccp: 1 };

const toXY = (pairs) => pairs.map(([x, y]) => ({ x, y }));

function pointSet(key, pairs) {
  return {
    label: key,
    data: toXY(pairs),
    pointStyle: MARKERS[key],
    pointRadius: 5,
    pointHoverRadius: 5,
    showLine: false,
    order: DRAW_ORDER[key]
  };
}

function lineSet(pairs) {
  return {
    label: 'ISCCP line',
    data: toXY([...pairs].sort((a, b) => a[0] - b[0])),
    showLine: true,
    borderColor: LINE_COLOR,
    borderWidth: 1.4,
    pointRadius: 0,
    order: 0
  };
}

// =============================================================================
// Frame, grid, ticks and labels
// =============================================================================

function axisFrame(opts) {
  return {
    id: 'axisFrame',
    beforeDatasetsDraw(chart) {
      const { ctx, chartArea: a, scales: { x, y } } = chart;
      ctx.save();
      ctx.strokeStyle = GRID_COLOR;
      ctx.lineWidth = 2;
      ctx.setLineDash([4, 5]);
      yearTicks.forEach(yr => {
        const px = Math.round(x.getPixelForValue(yr));
        if (px >= a.right - 2) return;
        ctx.beginPath();
        ctx.moveTo(px, a.top);
        ctx.lineTo(px, a.bottom);
        ctx.stroke();
      });
      opts.gridValues.forEach(v => {
        const py = Math.round(y.getPixelForValue(v));
        ctx.beginPath();
        ctx.moveTo(a.left, py);
        ctx.lineTo(a.right, py);
        ctx.stroke();
      });
      ctx.restore();
    },
    afterDraw(chart) {
      const { ctx, chartArea: a, scales: { x, y } } = chart;
      ctx.save();
      ctx.strokeStyle = FRAME_COLOR;
      ctx.lineWidth = 3;
      ctx.strokeRect(a.left, a.top, a.right - a.left, a.bottom - a.top);

      // year ticks along the bottom edge
      ctx.lineWidth = 2;
      for (let yr = 1983; yr < 2010; yr++) {
        const px = Math.round(x.getPixelForValue(yr));
        const len = yr % 5 === 0 ? 16 : 10;
        ctx.beginPath();
        ctx.moveTo(px, a.bottom);
        ctx.lineTo(px, a.bottom - len);
        ctx.stroke();
      }
      // value ticks along the left edge
      const n = Math.round((opts.max - opts.min) / opts.minorStep);
      for (let i = 1; i < n; i++) {
        const v = opts.min + i * opts.minorStep;
        const py = Math.round(y.getPixelForValue(v));
        const major = opts.tickValues.some(t => Math.abs(t - v) < opts.minorStep / 10);
        ctx.beginPath();
        ctx.moveTo(a.left, py);
        ctx.lineTo(a.left + (major ? 18 : 10), py);
        ctx.stroke();
      }

      // value labels
      ctx.fillStyle = '#111';
      ctx.font = `bold 32px ${SANS}`;
      ctx.textAlign = 'right';
      ctx.textBaseline = 'middle';
      opts.tickValues.forEach((v, i) => {
        const py = y.getPixelForValue(v) + (opts.labelShift[i] || 0);
        ctx.fillText(opts.tickLabels[i], a.left - 4, py);
      });

      // axis title
      ctx.save();
      ctx.translate(31, opts.titleY);
      ctx.rotate(-Math.PI / 2);
      ctx.textAlign = 'center';
      ctx.font = `bold 31px ${SANS}`;
      ctx.fillText(opts.title, 0, 0);
      ctx.restore();

      if (opts.after) opts.after(chart);
      ctx.restore();
    }
  };
}

function drawYearLabels(chart) {
  const { ctx, scales: { x } } = chart;
  ctx.save();
  ctx.fillStyle = '#111';
  ctx.font = `bold 32px ${SANS}`;
  ctx.textBaseline = 'alphabetic';
  yearTicks.forEach(yr => {
    if (yr === 2010) {
      ctx.textAlign = 'right';
      ctx.fillText(String(yr), 1925, 813 - CT_TOP);
    } else {
      ctx.textAlign = 'center';
      ctx.fillText(String(yr), x.getPixelForValue(yr) + 8, 813 - CT_TOP);
    }
  });
  ctx.textAlign = 'right';
  ctx.font = `bold 30px ${SANS}`;
  ctx.fillText('year', 1888, 832 - CT_TOP);
  ctx.restore();
}

// legend columns, page coordinates
const LEGEND_LAYOUT = [
  { key: 'isccp', mx: 158, tx: 188, y: 855 },
  { key: 'patmosx', mx: 158, tx: 188, y: 883 },
  { key: 'atsr', mx: 158, tx: 188, y: 910 },
  { key: 'hirs', mx: 456, tx: 491, y: 855 },
  { key: 'tovs', mx: 456, tx: 491, y: 883 },
  { key: 'airs', mx: 456, tx: 491, y: 912 },
  { key: 'modisCe', mx: 775, tx: 810, y: 862 },
  { key: 'modisSt', mx: 775, tx: 810, y: 888 },
  { key: 'misr', mx: 775, tx: 810, y: 917 },
  { key: 'polder', mx: 1075, tx: 1108, y: 858 },
  { key: 'calipsoSt', mx: 1075, tx: 1108, y: 887 },
  { key: 'calipsoGoccp', mx: 1075, tx: 1108, y: 917 }
];

function legendText(ctx, text, x, y) {
  ctx.fillText(text, x, y);
  ctx.strokeText(text, x, y); // slightly heavier strokes
}

function drawLegend(chart) {
  const { ctx } = chart;
  ctx.save();
  ctx.fillStyle = '#000';
  ctx.strokeStyle = '#000';
  ctx.lineWidth = 0.8;
  ctx.textAlign = 'left';
  ctx.textBaseline = 'middle';
  ctx.font = `italic 36px ${SERIF}`;
  LEGEND_LAYOUT.forEach(item => {
    const m = LEGEND_MARKERS[item.key];
    const label = SERIES.find(s => s.key === item.key).label;
    const cy = item.y - CT_TOP;
    ctx.drawImage(m, item.mx - m.width / 2, cy - m.height / 2);
    legendText(ctx, label, item.tx, cy + 1);
  });
  // line entry
  const ly = 867 - CT_TOP;
  ctx.strokeStyle = LINE_COLOR;
  ctx.lineWidth = 4;
  ctx.beginPath();
  ctx.moveTo(1501, ly);
  ctx.lineTo(1561, ly);
  ctx.stroke();
  ctx.strokeStyle = '#000';
  ctx.lineWidth = 0.8;
  ctx.font = `italic 42px ${SERIF}`;
  legendText(ctx, 'ISCCP', 1585, ly + 2);
  ctx.restore();
}

// =============================================================================
// Charts
// =============================================================================

function baseOptions(yMin, yMax, padding) {
  return {
    responsive: false,
    animation: false,
    devicePixelRatio: 1,
    events: [],
    layout: { padding },
    plugins: { legend: { display: false }, tooltip: { enabled: false } },
    scales: {
      x: { type: 'linear', min: 1982, max: 2010, display: false },
      y: { type: 'linear', min: yMin, max: yMax, display: false }
    }
  };
}

new Chart(document.getElementById('caChart'), {
  type: 'scatter',
  data: {
    datasets: [
      lineSet(isccpCA),
      pointSet('isccp', isccpCA),
      pointSet('modisSt', modisStCA),
      pointSet('modisCe', modisCeCA),
      pointSet('misr', misrCA),
      pointSet('airs', airsCA),
      pointSet('hirs', hirsCA),
      pointSet('tovs', tovsCA),
      pointSet('atsr', atsrCA),
      pointSet('patmosx', patmosxCA),
      pointSet('polder', polderCA),
      pointSet('calipsoSt', calipsoStCA),
      pointSet('calipsoGoccp', calipsoGoccpCA)
    ]
  },
  options: baseOptions(-0.05, 0.05, { left: 131, right: 22, top: 10, bottom: 8 }),
  plugins: [axisFrame({
    min: -0.05, max: 0.05, minorStep: 0.005,
    gridValues: caTickValues,
    tickValues: caTickValues,
    tickLabels: caTickLabels,
    labelShift: [],
    title: 'CA anomaly',
    titleY: 188
  })]
});

new Chart(document.getElementById('ctChart'), {
  type: 'scatter',
  data: {
    datasets: [
      lineSet(isccpLineCT),
      pointSet('isccp', isccpCT),
      pointSet('modisSt', modisStCT),
      pointSet('modisCe', modisCeCT),
      pointSet('airs', airsCT),
      pointSet('hirs', hirsCT),
      pointSet('tovs', tovsCT),
      pointSet('atsr', atsrCT),
      pointSet('patmosx', patmosxCT)
    ]
  },
  options: baseOptions(-4, 4, { left: 131, right: 22, top: 9, bottom: 176 }),
  plugins: [axisFrame({
    min: -4, max: 4, minorStep: 0.5,
    gridValues: [2, 0, -2],
    tickValues: ctTickValues,
    tickLabels: ctTickLabels,
    labelShift: [12, 0, 0, 0, -4],
    title: 'CT anomaly (K)',
    titleY: 581 - CT_TOP,
    after(chart) {
      drawYearLabels(chart);
      drawLegend(chart);
    }
  })]
});
</script>
</body>
</html>
